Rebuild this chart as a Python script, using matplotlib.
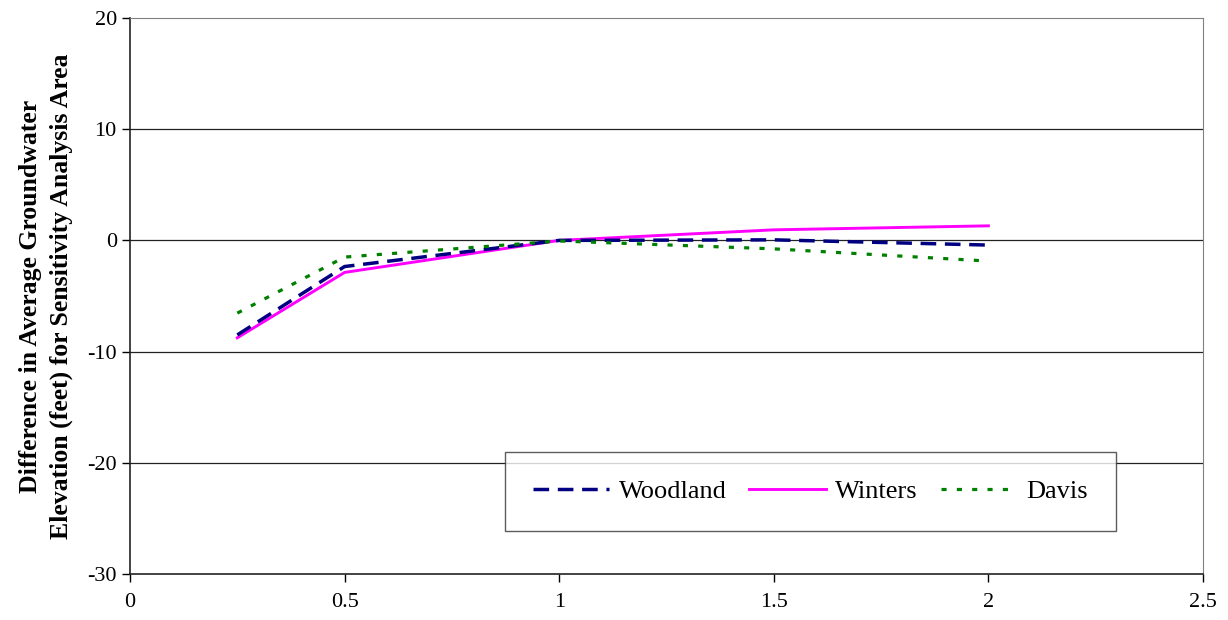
import matplotlib
matplotlib.use("Agg")
import matplotlib.pyplot as plt

# multiplier values along x
x = [0.25, 0.5, 1.0, 1.5, 2.0]
woodland = [-8.5, -2.35, 0.0, 0.05, -0.42]
winters = [-8.76, -2.88, 0.0, 0.95, 1.31]
davis = [-6.54, -1.5, -0.05, -0.76, -1.86]

yticks = [-30, -20, -10, 0, 10, 20]
xticks = [0, 0.5, 1, 1.5, 2, 2.5]
xticklabels = ["0", "0.5", "1", "1.5", "2", "2.5"]

plt.rcParams['font.family'] = ['Liberation Serif', 'DejaVu Serif']
plt.rcParams['axes.unicode_minus'] = False

fig = plt.figure(figsize=(12.28, 6.2), dpi=100)
ax = fig.add_axes([130/1228, 46/620, 1073/1228, 556/620])

for y in yticks[1:-1]:
    ax.axhline(y, color='#222222', lw=0.9, zorder=1)

ax.plot(x, woodland, color='#000080', lw=2.5, dashes=(4.5, 2.5), label='Woodland', zorder=3)
ax.plot(x, winters, color='#ff00ff', lw=2.1, label='Winters', zorder=2)
ax.plot(x, davis, color='#008000', lw=2.3, dashes=(1.6, 3.2), label='Davis', zorder=4)

ax.set_xlim(0, 2.5)
ax.set_ylim(-30, 20)
ax.set_xticks(xticks)
ax.set_xticklabels(xticklabels)
ax.set_yticks(yticks)
ax.tick_params(direction='out', length=6, labelsize=16, width=1)
ax.tick_params(axis='x', pad=8)

for side in ['top', 'right']:
    ax.spines[side].set_color('#808080')
for side in ['left', 'bottom']:
    ax.spines[side].set_color('#222222')
    ax.spines[side].set_linewidth(1.2)

ax.set_ylabel('Difference in Average Groundwater\nElevation (feet) for Sensitivity Analysis Area',
              fontsize=18.5, fontweight='bold', labelpad=10, linespacing=1.45)

leg = ax.legend(loc='lower left', ncol=3, mode='expand',
                bbox_to_anchor=(0.3495, 0.0773, 0.5694, 0.0),
                fontsize=19, frameon=True, fancybox=False, handlelength=2.9,
                borderaxespad=0, handletextpad=0.35, borderpad=1.05)
leg.get_frame().set_edgecolor('#333333')
leg.get_frame().set_linewidth(1.0)

fig.savefig('out.png', dpi=100)
